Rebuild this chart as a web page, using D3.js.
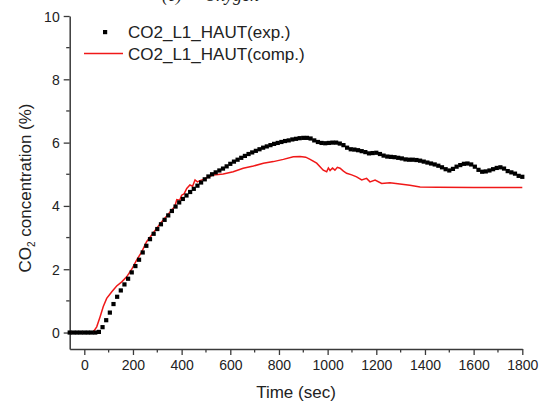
<!DOCTYPE html>
<html>
<head>
<meta charset="utf-8">
<script src="https://cdn.jsdelivr.net/npm/d3@7"></script>
<style>
  body { margin: 0; background: #fff; }
  svg { display: block; font-family: "Liberation Sans", Arial, sans-serif; }
</style>
</head>
<body>
<div id="chart"></div>
<script>
// chart size
var W = 545, H = 406;

// experimental series: one point every 15 s starting at -60 s
var exp_start = -60, exp_step = 15;
var exp_values = [
  0, 0, 0, 0, 0, 0, 0, 0, 0.02, 0.17,
  0.39, 0.63, 0.9, 1.13, 1.33, 1.52, 1.7, 1.9, 2.1, 2.3,
  2.53, 2.74, 2.95, 3.12, 3.27, 3.42, 3.56, 3.7, 3.84, 3.98,
  4.11, 4.22, 4.33, 4.44, 4.54, 4.64, 4.74, 4.84, 4.93, 5.0,
  5.06, 5.12, 5.18, 5.25, 5.33, 5.4, 5.46, 5.52, 5.58, 5.64,
  5.69, 5.74, 5.79, 5.84, 5.88, 5.92, 5.96, 5.99, 6.02, 6.05,
  6.07, 6.1, 6.12, 6.14, 6.15, 6.15, 6.13, 6.07, 6.02, 5.99,
  5.98, 5.99, 6.0, 6.0, 5.97, 5.92, 5.84, 5.79, 5.78, 5.76,
  5.73, 5.7, 5.66, 5.67, 5.68, 5.64, 5.59, 5.56, 5.55, 5.54,
  5.52, 5.5, 5.47, 5.46, 5.46, 5.45, 5.43, 5.4, 5.37, 5.34,
  5.31, 5.27, 5.22, 5.16, 5.12, 5.17, 5.24, 5.29, 5.33, 5.34,
  5.31, 5.24, 5.14, 5.08, 5.09, 5.12, 5.16, 5.2, 5.22, 5.18,
  5.1, 5.06, 5.02, 4.95, 4.92
];

// computed series (red line)
var comp_times = [
  -60, 0, 36, 51, 65, 78, 92, 113, 133, 154, 174, 195, 215, 236, 256, 277,
  297, 318, 339, 359, 372, 380, 392, 400, 410, 421, 434, 445, 455, 465, 475,
  490, 503, 530, 571, 612, 653, 695, 736, 777, 818, 859, 887, 910, 928, 955,
  982, 996, 1003, 1010, 1020, 1030, 1040, 1051, 1065, 1078, 1099, 1119, 1140,
  1160, 1174, 1195, 1222, 1256, 1297, 1338, 1380, 1450, 1600, 1800
];
var comp_values = [
  0, 0, 0.01, 0.18, 0.5, 0.82, 1.08, 1.29, 1.47, 1.6, 1.76, 2.0, 2.29, 2.55, 2.87, 3.08,
  3.29, 3.5, 3.68, 3.87, 3.98, 4.2, 4.18, 4.34, 4.38, 4.55, 4.66, 4.62, 4.82, 4.76, 4.8,
  4.84, 4.89, 4.98, 5.01, 5.08, 5.19, 5.26, 5.35, 5.4, 5.47, 5.55, 5.56, 5.54, 5.47, 5.35,
  5.13, 5.08, 5.2, 5.12, 5.2, 5.13, 5.22, 5.19, 5.1, 5.03, 4.98, 4.92, 4.82,
  4.87, 4.76, 4.82, 4.71, 4.73, 4.69, 4.65, 4.6, 4.59, 4.58, 4.58
];

var x_ticks = [0, 200, 400, 600, 800, 1000, 1200, 1400, 1600, 1800];
var y_ticks = [0, 2, 4, 6, 8, 10];
var legend_labels = ["CO2_L1_HAUT(exp.)", "CO2_L1_HAUT(comp.)"];

var exp_data = exp_values.map(function (v, i) {
  return { t: exp_start + i * exp_step, v: v };
});
var comp_data = comp_values.map(function (v, i) {
  return { t: comp_times[i], v: v };
});

var svg = d3.select("#chart").append("svg")
  .attr("width", W)
  .attr("height", H);

var x = d3.scaleLinear().domain([-60, 1800]).range([69.7, 522.3]);
var y = d3.scaleLinear().domain([-0.52, 10]).range([349, 16]);

var axis_color = "#3a3a3a";
var text_color = "#222";

// panel title, cut off by the top edge in the original figure
svg.append("text")
  .attr("x", 162)
  .attr("y", 1)
  .style("font-family", "'Liberation Serif', 'Times New Roman', serif")
  .style("font-style", "italic")
  .style("font-size", "18px")
  .attr("fill", text_color)
  .text("(c)")
  .append("tspan")
  .attr("dx", 22)
  .text("Oxygen");

// x axis
var x_minor = d3.range(100, 1800, 200);
var gx = svg.append("g")
  .attr("transform", "translate(0," + y(-0.52) + ")")
  .call(d3.axisBottom(x).tickValues(x_ticks).tickFormat(d3.format("d"))
    .tickSize(6).tickPadding(5).tickSizeOuter(0));
gx.selectAll(".minor")
  .data(x_minor)
  .enter().append("line")
  .attr("class", "minor")
  .attr("x1", function (d) { return x(d); })
  .attr("x2", function (d) { return x(d); })
  .attr("y1", 0).attr("y2", 3.5)
  .attr("stroke", axis_color)
  .attr("stroke-width", 1.3);

// y axis
var y_minor = [1, 3, 5, 7, 9];
var gy = svg.append("g")
  .attr("transform", "translate(" + x(-60) + ",0)")
  .call(d3.axisLeft(y).tickValues(y_ticks).tickSize(6).tickPadding(4).tickSizeOuter(0));
gy.selectAll(".minor")
  .data(y_minor)
  .enter().append("line")
  .attr("class", "minor")
  .attr("y1", function (d) { return y(d); })
  .attr("y2", function (d) { return y(d); })
  .attr("x1", 0).attr("x2", -3.5)
  .attr("stroke", axis_color)
  .attr("stroke-width", 1.3);

[gx, gy].forEach(function (g) {
  g.select(".domain").attr("stroke", axis_color).attr("stroke-width", 1.5);
  g.selectAll(".tick line").attr("stroke", axis_color).attr("stroke-width", 1.3);
  g.selectAll(".tick text")
    .attr("fill", text_color)
    .style("font-family", "'Liberation Sans', Arial, sans-serif")
    .style("font-size", "14px");
});
gy.selectAll(".tick text").attr("dy", "0.36em");

// axis titles
svg.append("text")
  .attr("x", (x(-60) + x(1800)) / 2)
  .attr("y", 398)
  .attr("text-anchor", "middle")
  .attr("fill", text_color)
  .style("font-size", "17px")
  .text("Time (sec)");

var ylab = svg.append("text")
  .attr("transform", "translate(31,188) rotate(-90)")
  .attr("text-anchor", "middle")
  .attr("fill", text_color)
  .style("font-size", "17px");
ylab.append("tspan").text("CO");
ylab.append("tspan").attr("dy", 4).style("font-size", "10px").text("2");
ylab.append("tspan").attr("dy", -4).text(" concentration (%)");

// computed line
var line = d3.line()
  .x(function (d) { return x(d.t); })
  .y(function (d) { return y(d.v); });

svg.append("path")
  .datum(comp_data)
  .attr("d", line)
  .attr("fill", "none")
  .attr("stroke", "#f01818")
  .attr("stroke-width", 1.5);

// experimental markers
var sq = 4.2;
svg.append("g")
  .selectAll("rect")
  .data(exp_data)
  .enter().append("rect")
  .attr("x", function (d) { return x(d.t) - sq / 2; })
  .attr("y", function (d) { return y(d.v) - sq / 2; })
  .attr("width", sq)
  .attr("height", sq)
  .attr("fill", "#000");

// legend
var leg = svg.append("g");
leg.append("rect")
  .attr("x", 103).attr("y", 30)
  .attr("width", sq).attr("height", sq)
  .attr("fill", "#000");
leg.append("line")
  .attr("x1", 84).attr("x2", 123)
  .attr("y1", 53.5).attr("y2", 53.5)
  .attr("stroke", "#f01818")
  .attr("stroke-width", 1.5);
leg.selectAll("text")
  .data(legend_labels)
  .enter().append("text")
  .attr("x", 128)
  .attr("y", function (d, i) { return 38 + i * 21.5; })
  .attr("fill", text_color)
  .style("font-size", "17px")
  .text(function (d) { return d; });
</script>
</body>
</html>
